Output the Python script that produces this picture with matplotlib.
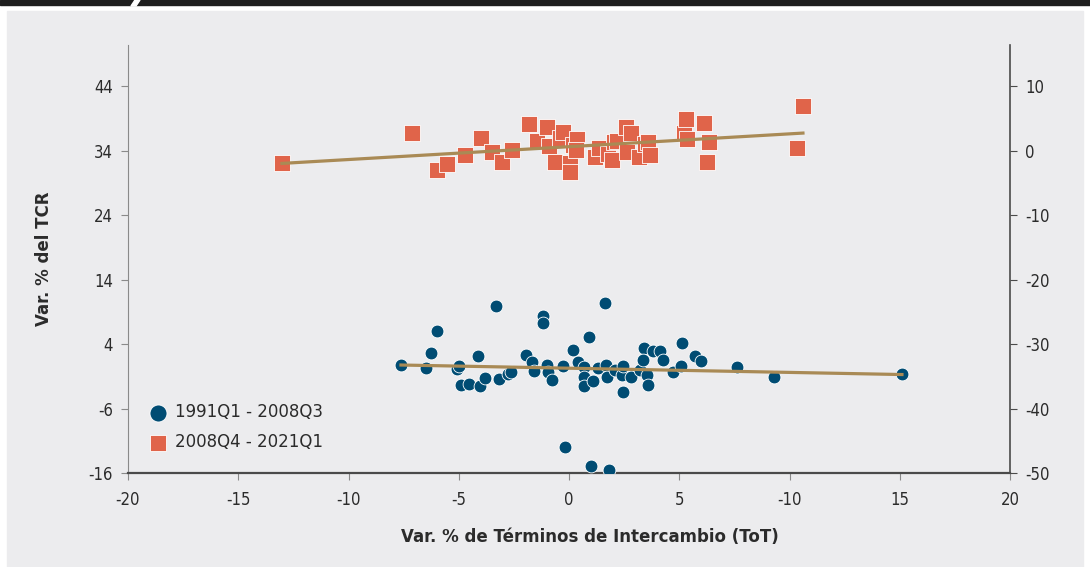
import numpy as np
import matplotlib.pyplot as plt
from matplotlib.patches import Rectangle, Polygon

plt.rcParams['axes.unicode_minus'] = False
plt.rcParams['font.family'] = ['DejaVu Sans']

# 1991Q1 - 2008Q3 (eje izquierdo)
x_pre = [-7.62, -6.49, -5.99, -6.26, -5.08, -4.99, -4.90, -4.54, -4.13, -4.04,
         -3.81, -3.31, -3.17, -2.77, -2.63, -1.95, -1.68, -1.59, -1.18, -1.18,
         -1.00, -0.95, -0.77, -0.27, 0.18, 0.41, 0.68, 0.91, 0.68, 0.68,
         1.09, 1.32, 1.63, 1.68, 1.72, 2.09, 2.40, 2.45, 2.45, 2.81,
         3.22, 3.40, 3.36, 3.54, 3.58, 3.81, 4.13, 4.26, 4.72, 5.12,
         5.08, 5.71, 5.99, 7.62, 9.30, 15.10, -0.18, 1.00, 1.81]
y_pre = [0.74, 0.28, 6.02, 2.60, 0.12, 0.59, -2.36, -2.20, 2.14, -2.51,
         -1.27, 9.89, -1.43, -0.65, -0.34, 2.29, 1.21, -0.19, 8.34, 7.26,
         0.74, -0.34, -1.58, 0.59, 3.07, 1.21, 0.43, 5.09, -1.12, -2.51,
         -1.74, 0.28, 10.36, 0.74, -1.12, -0.03, -0.81, 0.59, -3.44, -1.12,
         -0.03, 3.38, 1.52, -0.81, -2.36, 2.91, 2.91, 1.52, -0.34, 4.16,
         0.59, 2.14, 1.36, 0.43, -1.12, -0.65, -11.97, -14.91, -15.53]

# 2008Q4 - 2021Q1 (eje derecho)
x_post = [-13.02, -7.12, -5.99, -5.53, -4.72, -3.99, -3.49, -3.04, -2.59, -1.81,
          -1.45, -1.00, -0.91, -0.63, -0.41, -0.27, 0.05, 0.05, 0.18, 0.36,
          0.32, 1.18, 1.36, 1.77, 1.95, 2.04, 2.18, 2.59, 2.81, 2.63,
          3.17, 3.45, 3.58, 3.67, 5.22, 5.31, 5.35, 6.12, 6.35, 6.26,
          10.34, 10.61]
y_post = [-1.94, 2.71, -3.02, -2.09, -0.70, 1.94, -0.23, -1.78, 0.08, 4.11,
          1.47, 3.64, 0.70, -1.78, 1.94, 2.87, -1.94, -3.33, 0.85, 1.78,
          0.08, -1.01, 0.39, -0.54, -1.47, 1.32, 1.47, 3.64, 2.71, -0.23,
          -1.01, 1.01, 1.32, -0.70, 2.71, 4.88, 1.78, 4.26, 1.32, -1.78,
          0.39, 6.90]

x_ticks = [-20, -15, -10, -5, 0, 5, 10, 15, 20]
x_labels = ['-20', '-15', '-10', '-5', '0', '5', '-10', '15', '20']
left_ticks = [44, 34, 24, 14, 4, -6, -16]
right_ticks = [10, 0, -10, -20, -30, -40, -50]

blue = '#004C73'
orange = '#E0644A'
trend = '#A98A55'
txt = '#2b2b2b'

fig = plt.figure(figsize=(10.9, 5.67), dpi=100)
fig.patch.set_facecolor('white')
fig.patches.append(Rectangle((7 / 1090, 0.0), 1076 / 1090, 1 - 11 / 567,
                             transform=fig.transFigure, color='#ECECEE', zorder=-10))
fig.patches.append(Rectangle((0, 1 - 5 / 567), 1, 5 / 567,
                             transform=fig.transFigure, color='#1e1e1e', zorder=-9))
fig.patches.append(Polygon([(131 / 1090, 1 - 6 / 567), (136 / 1090, 1 - 6 / 567),
                            (140 / 1090, 1.0), (135 / 1090, 1.0)],
                           closed=True, transform=fig.transFigure, color='white', zorder=-8))

ax = fig.add_axes([128 / 1090, 1 - 473 / 567, 882 / 1090, 428 / 567])
ax.set_facecolor('none')
ax2 = ax.twinx()

ax.scatter(x_pre, y_pre, s=85, color=blue, edgecolor='white', linewidth=0.6,
           zorder=3, label='1991Q1 - 2008Q3')
ax2.scatter(x_post, y_post, s=135, marker='s', color=orange, edgecolor='white',
            linewidth=0.6, zorder=3, label='2008Q4 - 2021Q1')

# rectas de tendencia
for axis, xs, ys in [(ax, x_pre, y_pre), (ax2, x_post, y_post)]:
    b, a = np.polyfit(xs, ys, 1)
    xx = np.array([min(xs), max(xs)])
    axis.plot(xx, a + b * xx, color=trend, linewidth=2.3, zorder=4)

ax.set_xlim(-20, 20)
ax.set_ylim(-16, 50.4)
ax2.set_ylim(-50, 16.4)
ax.set_xticks(x_ticks)
ax.set_xticklabels(x_labels)
ax.set_yticks(left_ticks)
ax2.set_yticks(right_ticks)

for s in ['left', 'right', 'bottom', 'top']:
    ax2.spines[s].set_visible(s == 'right')
ax.spines['top'].set_visible(False)
ax.spines['right'].set_visible(False)
ax.spines['left'].set_color('#8a8a8a')
ax.spines['bottom'].set_color('#4a4a4a')
ax.spines['bottom'].set_linewidth(1.6)
ax2.spines['right'].set_color('#4a4a4a')
ax2.spines['right'].set_linewidth(1.2)

ax.tick_params(axis='y', direction='out', length=5, color='#8a8a8a',
               labelsize=12, labelcolor=txt, pad=6)
ax.tick_params(axis='x', direction='out', length=5, color='#8a8a8a',
               labelsize=12, labelcolor=txt, pad=8)
ax2.tick_params(axis='y', direction='out', length=5, color='#4a4a4a',
                labelsize=12, labelcolor=txt, pad=6)
for lab in ax.get_xticklabels() + ax.get_yticklabels() + ax2.get_yticklabels():
    lab.set_fontstretch('condensed')

ax.set_xlabel('Var. % de Términos de Intercambio (ToT)', fontsize=12,
              fontweight='bold', color=txt)
ax.xaxis.set_label_coords(0.524, -0.128)
ax.set_ylabel('Var. % del TCR', fontsize=12, fontweight='bold', color=txt)
ax.yaxis.set_label_coords(-0.085, 0.5)

h1, l1 = ax.get_legend_handles_labels()
h2, l2 = ax2.get_legend_handles_labels()
leg = ax2.legend(h1 + h2, l1 + l2, loc='lower left', bbox_to_anchor=(0.0, 0.02),
                 frameon=False, fontsize=12, handletextpad=0.0,
                 labelspacing=0.7, borderaxespad=0.4)
leg.legend_handles[0].set_sizes([150])
leg.legend_handles[1].set_sizes([140])
for t in leg.get_texts():
    t.set_color(txt)

fig.savefig('out.png', dpi=100, facecolor=fig.get_facecolor())
